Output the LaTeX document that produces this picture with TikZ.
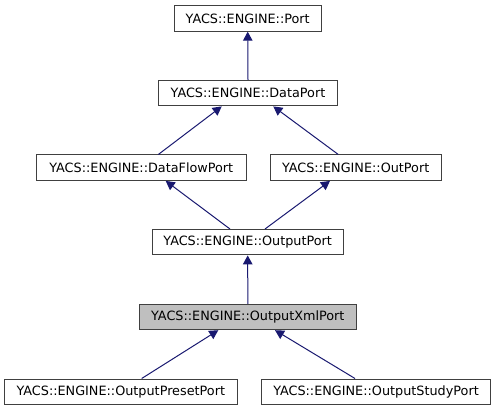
\documentclass[tikz,border=0pt]{standalone}
\usepackage{fontspec}
\setmainfont{DejaVu Sans}
\usetikzlibrary{arrows.meta}
\definecolor{edgec}{HTML}{191970}
\definecolor{boxc}{HTML}{404040}
\definecolor{hl}{HTML}{BFBFBF}
\begin{document}
\begin{tikzpicture}[x=1pt,y=-1pt,
  cls/.style={draw=boxc,line width=0.9pt,fill=white,minimum height=25.5pt,inner sep=0pt,font=\fontsize{12.8}{14}\selectfont},
  inh/.style={draw=edgec,line width=1pt,-{Triangle[length=9pt,width=9.5pt,fill=edgec]}}]
\useasboundingbox (0,0) rectangle (495,411);
\node[cls,minimum width=147pt] (port) at (247.7,18.5) {YACS::ENGINE::Port};
\node[cls,minimum width=178.6pt] (dp) at (248,93.2) {YACS::ENGINE::DataPort};
\node[cls,minimum width=209.3pt] (dfp) at (141.3,167.7) {YACS::ENGINE::DataFlowPort};
\node[cls,minimum width=170.7pt] (op) at (355.7,167.7) {YACS::ENGINE::OutPort};
\node[cls,minimum width=190.7pt] (outp) at (247.7,242.2) {YACS::ENGINE::OutputPort};
\node[cls,minimum width=217pt,fill=hl] (xml) at (247.8,317) {YACS::ENGINE::OutputXmlPort};
\node[cls,minimum width=232.3pt] (pre) at (120.8,391.7) {YACS::ENGINE::OutputPresetPort};
\node[cls,minimum width=228.6pt] (stu) at (376,391.7) {YACS::ENGINE::OutputStudyPort};
\draw[inh] (dp.north) -- (port.south);
\draw[inh] ([xshift=17pt]dfp.north) -- ([xshift=-26.3pt]dp.south);
\draw[inh] ([xshift=-17.4pt]op.north) -- ([xshift=25.3pt]dp.south);
\draw[inh] ([xshift=-17.7pt]outp.north) -- ([xshift=24.4pt]dfp.south);
\draw[inh] ([xshift=17.3pt]outp.north) -- ([xshift=-25.7pt]op.south);
\draw[inh] (xml.north) -- (outp.south);
\draw[inh] ([xshift=20.9pt]pre.north) -- ([xshift=-29.5pt]xml.south);
\draw[inh] ([xshift=-21pt]stu.north) -- ([xshift=27.2pt]xml.south);
\end{tikzpicture}
\end{document}
